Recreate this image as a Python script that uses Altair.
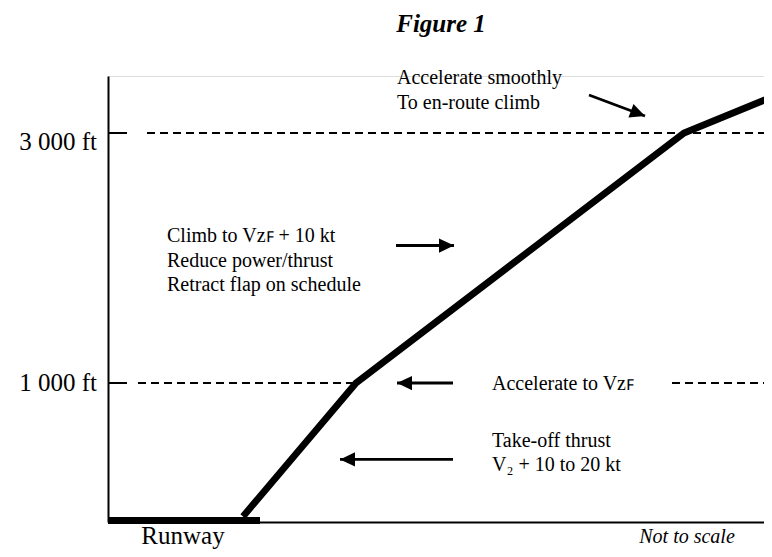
import altair as alt
import pandas as pd

# ------------------------------------------------------------------
# Values
# distance: arbitrary units (diagram is "not to scale"), altitude: ft
# ------------------------------------------------------------------
path_dist = [135, 248, 576, 664]
path_alt = [40, 1000, 3000, 3316]

runway_from = [0]
runway_to = [152]

# reference-level segments: short solid tick at the axis, then dashes
level_seg_alt = [3000, 1000, 3000, 1000, 1000]
level_seg_from = [0, 0, 39, 30, 564]
level_seg_to = [19, 19, 664, 247, 664]
level_seg_kind = ["solid", "solid", "dashed", "dashed", "dashed"]

level_label = ["3 000 ft", "1 000 ft"]
level_label_alt = [2930, 1000]
level_label_dist = [-11, -11]

arrow_tail_dist = [481, 288, 345, 345]
arrow_tail_alt = [3333, 2100, 1000, 450]
arrow_tip_dist = [537, 346, 289, 232]
arrow_tip_alt = [3149, 2100, 1000, 450]
arrow_heading = [20.6, 0, 180, 180]

note_text = [
    "Accelerate smoothly\nTo en-route climb",
    "Climb to V\u1d22\ua730 + 10 kt\nReduce power/thrust\nRetract flap on schedule",
    "Accelerate to V\u1d22\ua730",
    "Take-off thrust\nV\u2082 + 10 to 20 kt",
]
note_dist = [289, 59, 384, 384]
note_alt = [3482, 2176, 993, 583]

foot_text = ["Runway", "Not to scale"]
foot_dist = [75, 579]
foot_alt = [-156, -150]

# ------------------------------------------------------------------
FONT = "Liberation Serif"
PLOT_W, PLOT_H = 656, 446

path_df = pd.DataFrame({"dist": path_dist, "alt": path_alt, "order": range(len(path_dist))})
runway_df = pd.DataFrame({"x1": runway_from, "x2": runway_to, "alt": [0] * len(runway_from)})
level_df = pd.DataFrame({"x1": level_seg_from, "x2": level_seg_to, "alt": level_seg_alt,
                         "kind": level_seg_kind})
label_df = pd.DataFrame({"txt": level_label, "dist": level_label_dist, "alt": level_label_alt})
arrow_df = pd.DataFrame({
    "x1": arrow_tail_dist, "y1": arrow_tail_alt,
    "x2": arrow_tip_dist, "y2": arrow_tip_alt,
    "heading": arrow_heading,
})
note_df = pd.DataFrame({"txt": note_text, "dist": note_dist, "alt": note_alt})
runway_lbl_df = pd.DataFrame({"txt": foot_text[:1], "dist": foot_dist[:1], "alt": foot_alt[:1]})
scale_lbl_df = pd.DataFrame({"txt": foot_text[1:], "dist": foot_dist[1:], "alt": foot_alt[1:]})

xs = alt.Scale(domain=[0, PLOT_W], nice=False, zero=False)
ys = alt.Scale(domain=[0, 1000, 3000, 3500], range=[PLOT_H, 307, 57, 0], nice=False, zero=False)

axis_style = dict(domain=True, domainColor="black", domainWidth=2, ticks=False,
                  labels=False, grid=False, title=None)

path = alt.Chart(path_df).mark_line(
    color="black", strokeWidth=6.8, strokeCap="butt", strokeJoin="miter", clip=True
).encode(
    x=alt.X("dist:Q", scale=xs, axis=alt.Axis(**axis_style)),
    y=alt.Y("alt:Q", scale=ys, axis=alt.Axis(**axis_style)),
    order="order:Q",
)

runway = alt.Chart(runway_df).mark_rule(color="black", strokeWidth=7, yOffset=-1.5).encode(
    x=alt.X("x1:Q", scale=xs), x2="x2:Q", y=alt.Y("alt:Q", scale=ys)
)

levels = alt.Chart(level_df).mark_rule(color="black", strokeWidth=1.8, clip=True).encode(
    x=alt.X("x1:Q", scale=xs), x2="x2:Q", y=alt.Y("alt:Q", scale=ys),
    strokeDash=alt.StrokeDash(
        "kind:N",
        scale=alt.Scale(domain=["solid", "dashed"], range=[[1, 0], [8, 5]]),
        legend=None,
    ),
)

labels = alt.Chart(label_df).mark_text(
    font=FONT, fontSize=25, align="right", baseline="middle", color="black"
).encode(x=alt.X("dist:Q", scale=xs), y=alt.Y("alt:Q", scale=ys), text="txt:N")

shafts = alt.Chart(arrow_df).mark_rule(color="black", strokeWidth=2.8).encode(
    x=alt.X("x1:Q", scale=xs), y=alt.Y("y1:Q", scale=ys), x2="x2:Q", y2="y2:Q"
)

heads = alt.Chart(arrow_df).mark_point(
    shape="M0,0L-2,-0.95L-2,0.95Z", filled=True, opacity=1, color="black", size=225, strokeWidth=0
).encode(
    x=alt.X("x2:Q", scale=xs), y=alt.Y("y2:Q", scale=ys),
    angle=alt.Angle("heading:Q", scale=None),
)

notes = alt.Chart(note_df).mark_text(
    font=FONT, fontSize=20, align="left", baseline="middle", lineBreak="\n",
    lineHeight=24.5, color="black"
).encode(x=alt.X("dist:Q", scale=xs), y=alt.Y("alt:Q", scale=ys), text="txt:N")

runway_lbl = alt.Chart(runway_lbl_df).mark_text(
    font=FONT, fontSize=25, align="center", baseline="alphabetic", color="black"
).encode(x=alt.X("dist:Q", scale=xs), y=alt.Y("alt:Q", scale=ys), text="txt:N")

scale_lbl = alt.Chart(scale_lbl_df).mark_text(
    font=FONT, fontSize=20, fontStyle="italic", align="center", baseline="alphabetic", color="black"
).encode(x=alt.X("dist:Q", scale=xs), y=alt.Y("alt:Q", scale=ys), text="txt:N")

chart = alt.layer(
    levels, runway, path, shafts, heads, labels, notes, runway_lbl, scale_lbl
).properties(
    width=PLOT_W,
    height=PLOT_H,
    title=alt.TitleParams(
        "Figure 1", font=FONT, fontSize=25, fontStyle="italic", fontWeight="bold",
        anchor="middle", color="black", offset=31, dx=5,
    ),
    autosize=alt.AutoSizeParams(type="none"),
    padding={"left": 100, "top": 68, "right": 0, "bottom": 27},
).configure_view(stroke=None).configure(background="white")

chart.save("out.html", embed_options={"renderer": "svg", "actions": False})
